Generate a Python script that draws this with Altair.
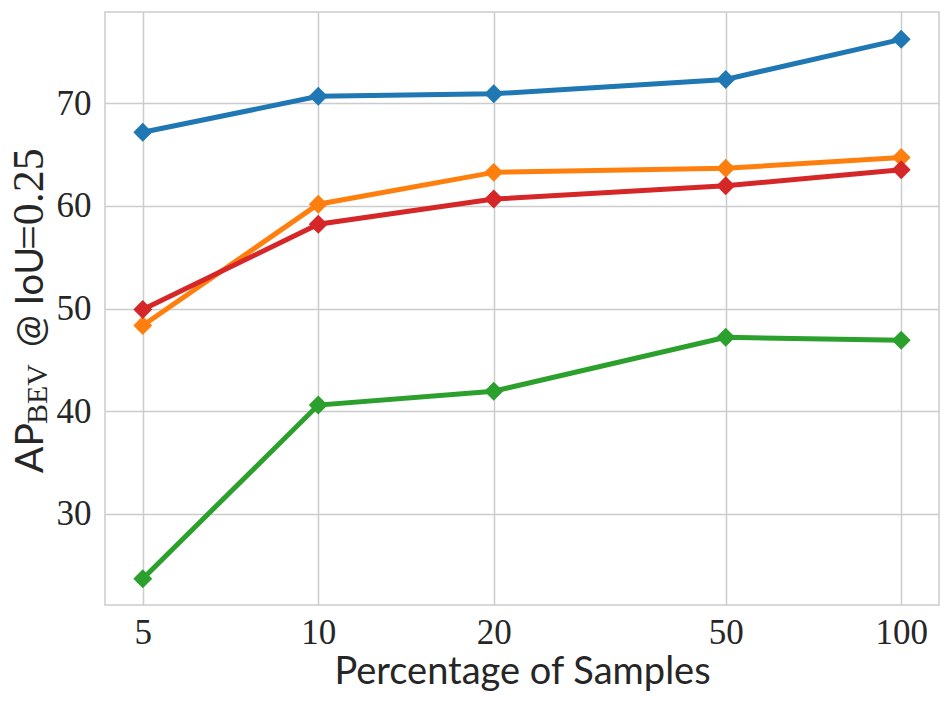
import altair as alt
import pandas as pd

# ---- data ----
percentages = [5, 10, 20, 50, 100]
series_names = ["Series 1", "Series 2", "Series 3", "Series 4"]
series_colors = ["#1f77b4", "#ff7f0e", "#2ca02c", "#d62728"]
blue_vals = [67.15, 70.65, 70.9, 72.3, 76.2]
orange_vals = [48.35, 60.15, 63.25, 63.65, 64.7]
green_vals = [23.7, 40.6, 41.95, 47.2, 46.9]
red_vals = [49.9, 58.2, 60.65, 61.95, 63.5]
y_ticks = [30, 40, 50, 60, 70]
x_title = "Percentage of Samples"
y_title_main = "AP"
y_title_sub = "BEV"
y_title_mid = "@ IoU"
y_title_math = "=0.25"

rows = []
for name, vals in zip(series_names, [blue_vals, orange_vals, green_vals, red_vals]):
    for p, v in zip(percentages, vals):
        rows.append({"series": name, "pct": p, "value": v})
df = pd.DataFrame(rows)

W, H = 834, 593
TEXT = "#262626"

x_enc = alt.X(
    "pct:Q",
    scale=alt.Scale(type="log", base=2, domain=[4.307, 116.1], nice=False),
    axis=alt.Axis(
        values=percentages, format="d", title=x_title, labelPadding=10,
        titleFont="Lato", titleFontSize=38, titleFontWeight="normal",
        titleColor=TEXT, titleX=W / 2, titleY=78, titleBaseline="alphabetic",
        titleAlign="center", titleAngle=0,
    ),
)
y_enc = alt.Y(
    "value:Q",
    scale=alt.Scale(domain=[21.14, 78.86], nice=False, zero=False),
    axis=alt.Axis(values=y_ticks, format="d", title=None, labelPadding=14),
)
color_enc = alt.Color(
    "series:N", scale=alt.Scale(domain=series_names, range=series_colors), legend=None
)

base = alt.Chart(df)
lines = base.mark_line(strokeWidth=5).encode(x=x_enc, y=y_enc, color=color_enc, detail="series:N")
points = base.mark_point(shape="diamond", filled=True, size=360, opacity=1).encode(
    x=x_enc, y=y_enc, color=color_enc
)


def title_piece(text, font, size, x, y):
    return alt.Chart(pd.DataFrame({"t": [text]})).mark_text(
        font=font, fontSize=size, angle=270, align="left", baseline="alphabetic", color=TEXT
    ).encode(text="t:N", x=alt.value(x), y=alt.value(y))


t_main = title_piece(y_title_main, "Lato", 39, -62, 461)
t_sub = title_piece(y_title_sub, "Liberation Serif", 30, -58, 412)
t_mid = title_piece(y_title_mid, "Lato", 38, -62, 335)
t_math = title_piece(y_title_math, "Liberation Serif", 44, -62, 238)

chart = alt.layer(lines, points, t_main, t_sub, t_mid, t_math).properties(
    width=W, height=H,
    padding={"left": 97, "top": 4, "right": 5, "bottom": 92},
    autosize=alt.AutoSizeParams(type="none"),
).configure_view(
    stroke="#cccccc", strokeWidth=1.5
).configure_axis(
    domain=False, ticks=False, grid=True, gridColor="#cccccc", gridWidth=1.5,
    labelFont="Liberation Serif", labelFontSize=35, labelColor=TEXT,
)

chart.save("out.html", embed_options={"renderer": "svg", "actions": False})
